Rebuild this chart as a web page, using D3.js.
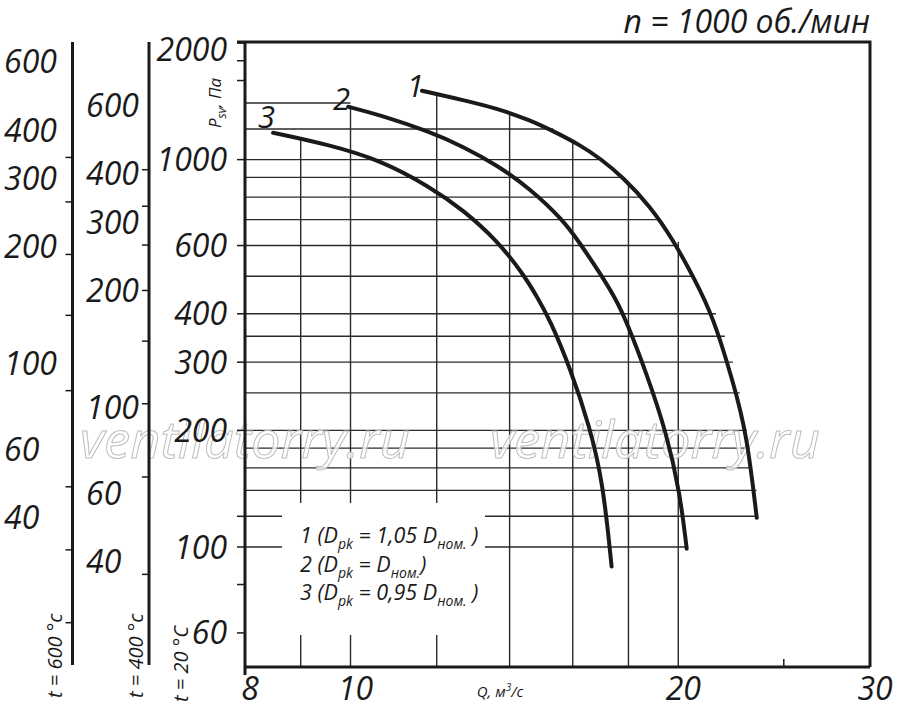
<!DOCTYPE html>
<html>
<head>
<meta charset="utf-8">
<script src="https://cdn.jsdelivr.net/npm/d3@7/dist/d3.min.js"></script>
<style>
  body { margin: 0; background: #fff; }
  text { font-family: "Open Sans", "Liberation Sans", sans-serif; font-style: italic; fill: #1a1a1a; }
</style>
</head>
<body>
<svg id="chart" width="900" height="719"></svg>
<script>
// curves: Q (m3/s) and P_sv (Pa)
const curve1Q = [11.63, 12.69, 13.62, 14.61, 15.46, 16.24, 16.95, 17.80, 18.84, 19.79, 20.64, 21.54, 22.47, 23.11, 23.61];
const curve1P = [1506, 1425, 1356, 1266, 1173, 1091, 1008, 900, 759, 620, 499, 393, 265, 197, 119];
const curve2Q = [9.95, 10.64, 11.83, 12.69, 13.62, 14.61, 15.68, 16.24, 16.95, 17.55, 17.93, 18.70, 19.51, 20.07, 20.36];
const curve2P = [1369, 1304, 1180, 1080, 969, 843, 698, 609, 509, 434, 381, 281, 197, 138, 99];
const curve3Q = [8.49, 9.57, 10.64, 11.83, 12.69, 13.62, 14.41, 14.86, 15.25, 15.91, 16.59, 17.06, 17.37];
const curve3P = [1173, 1091, 998, 851, 741, 620, 507, 439, 385, 290, 204, 146, 89];
const curveNames = ["1", "2", "3"];

// grid
const gridP = [1400, 1200, 1000, 900, 800, 700, 600, 500, 400, 350, 300, 250, 200, 180, 160, 140, 120, 100];
const gridPEndQ = [10, 15.35, 17.0, 17.75, 18.5, 19.15, 19.85, 20.67, 21.66, 22.07, 22.45, 22.78, 23.13, 23.27, 23.37, 23.6, 23.6, 20.37];
const gridQ = [9, 10, 12, 14, 16, 18, 20];
const gridQTopP = [1137, 1375, 1480, 1330, 1124, 877, 614];

// axes
const xTickLabels = [8, 10, 20, 30];
const xMinorTicks = [25];
const yTickLabels = [2000, 1000, 600, 400, 300, 200, 100, 60];
const yTicks = [2000, 1800, 1600, 1000, 600, 400, 300, 200, 120, 100, 80, 60];
const t600Labels = [600, 400, 300, 200, 100, 60, 40];
const t600Ticks = [340, 261, 191, 133, 85, 48, 33, 21.4];
const t400Labels = [600, 400, 300, 200, 100, 60, 40];
const t400Ticks = [410, 330, 262, 200, 148, 102, 66, 37];

const svg = d3.select("#chart");
const ink = "#1a1a1a";

const x = d3.scaleLog().domain([8, 30]).range([245, 870]);
const y = d3.scaleLog().domain([49, 2000]).range([667, 43]);
// pressure at temperature t maps to 20 °C pressure via density ratio
const ratio = t => (t + 273) / (20 + 273);

// grid lines
const g = svg.append("g").attr("stroke", "#2a2a2a").attr("stroke-width", 1.4);
g.selectAll("line.h").data(gridP).join("line")
  .attr("x1", x(8)).attr("x2", (d, i) => x(gridPEndQ[i]))
  .attr("y1", d => y(d)).attr("y2", d => y(d));
g.selectAll("line.v").data(gridQ).join("line")
  .attr("x1", d => x(d)).attr("x2", d => x(d))
  .attr("y1", y(49)).attr("y2", (d, i) => y(gridQTopP[i]));

// watermark
svg.selectAll("text.wm").data([80, 490]).join("text")
  .attr("x", d => d).attr("y", 458)
  .attr("textLength", 330).attr("lengthAdjust", "spacingAndGlyphs")
  .style("font-size", "52px").style("fill", "#fff").style("fill-opacity", 0.75)
  .attr("stroke", "#bdbdbd").attr("stroke-width", 1)
  .text("ventilatorry.ru");

// legend box over grid
svg.append("rect").attr("x", 282).attr("y", 503).attr("width", 203).attr("height", 132).attr("fill", "#fff");
const legend = [
  ["1 (D", "pk", " = 1,05 D", "ном.", " )"],
  ["2 (D", "pk", " = D", "ном.", ")"],
  ["3 (D", "pk", " = 0,95 D", "ном.", " )"]
];
legend.forEach((parts, i) => {
  const t = svg.append("text").attr("x", 300).attr("y", 543 + i * 28.5).style("font-size", "21.5px");
  parts.forEach((p, j) => {
    const sub = j % 2 === 1;
    t.append("tspan").text(p)
      .attr("dy", j === 0 ? 0 : (sub ? 6 : -6))
      .style("font-size", sub ? "14px" : "21.5px");
  });
});

// curves
const curves = [[curve1Q, curve1P], [curve2Q, curve2P], [curve3Q, curve3P]];
const line = d3.line().x(d => x(d[0])).y(d => y(d[1])).curve(d3.curveBasis);
curves.forEach(([qs, ps], i) => {
  const pts = qs.map((q, k) => [q, ps[k]]);
  svg.append("path").attr("d", line(pts))
    .attr("fill", "none").attr("stroke", ink).attr("stroke-width", 4).attr("stroke-linecap", "round");
  svg.append("text").attr("x", x(qs[0]) + 2).attr("y", y(ps[0]) + [6, 3, -5][i])
    .attr("text-anchor", "end").style("font-size", "31px").text(curveNames[i]);
});

// frame and main axes
const fr = svg.append("g").attr("stroke", ink).attr("fill", "none");
fr.append("path").attr("d", `M${x(8) - 8},42H${x(30)}V${y(49)}`).attr("stroke-width", 3);
fr.append("line").attr("x1", x(8)).attr("x2", x(8)).attr("y1", 42).attr("y2", y(49) + 8).attr("stroke-width", 3);
fr.append("line").attr("x1", x(8)).attr("x2", x(30)).attr("y1", y(49)).attr("y2", y(49)).attr("stroke-width", 3);
fr.selectAll("line.yt").data(yTicks).join("line")
  .attr("x1", x(8) - 8).attr("x2", x(8)).attr("y1", d => y(d)).attr("y2", d => y(d)).attr("stroke-width", 1.5);
fr.selectAll("line.xt").data(xMinorTicks).join("line")
  .attr("x1", d => x(d)).attr("x2", d => x(d)).attr("y1", y(49)).attr("y2", y(49) - 8).attr("stroke-width", 1.5);

svg.selectAll("text.yl").data(yTickLabels).join("text")
  .attr("x", 227).attr("y", d => Math.max(y(d), 49)).attr("dy", "0.36em")
  .attr("text-anchor", "end").style("font-size", "32px").text(d => d);
svg.selectAll("text.xl").data(xTickLabels).join("text")
  .attr("x", d => x(d) + 5).attr("y", 700)
  .attr("text-anchor", "middle").style("font-size", "32px").text(d => d);

const qt = svg.append("text").attr("x", 500).attr("y", 697).attr("text-anchor", "middle").style("font-size", "15px");
qt.append("tspan").text("Q, м");
qt.append("tspan").text("3").attr("dy", -6).style("font-size", "10px");
qt.append("tspan").text("/с").attr("dy", 6);

const pt = svg.append("text").attr("transform", "translate(221,103) rotate(-90)")
  .attr("text-anchor", "middle").style("font-size", "17px");
pt.append("tspan").text("P");
pt.append("tspan").text("sv").attr("dy", 5).style("font-size", "12px");
pt.append("tspan").text(", Па").attr("dy", -5);

svg.append("text").attr("x", 870).attr("y", 33).attr("text-anchor", "end")
  .style("font-size", "32px").text("n = 1000 об./мин");

// temperature scales on the left
function tempAxis(t, ax, labelX, labels, ticks, title, titleX, titleY) {
  const k = ratio(t);
  svg.append("line").attr("x1", ax).attr("x2", ax).attr("y1", 42).attr("y2", 665)
    .attr("stroke", ink).attr("stroke-width", 3);
  svg.selectAll(null).data(ticks).join("line")
    .attr("x1", ax - 7).attr("x2", ax).attr("y1", d => y(d * k)).attr("y2", d => y(d * k))
    .attr("stroke", ink).attr("stroke-width", 1.5);
  svg.selectAll(null).data(labels).join("text")
    .attr("x", labelX).attr("y", d => y(d * k)).attr("dy", "0.36em")
    .style("font-size", "32px").text(d => d);
  svg.append("text").attr("transform", `translate(${titleX},${titleY}) rotate(-90)`)
    .style("font-size", "20px").text(title);
}
tempAxis(600, 72.5, 4, t600Labels, t600Ticks, "t = 600 °c", 62, 698);
tempAxis(400, 149, 86, t400Labels, t400Ticks, "t = 400 °c", 143, 698);
svg.append("text").attr("transform", "translate(188,702) rotate(-90)")
  .style("font-size", "20px").text("t = 20 °C");
</script>
</body>
</html>
